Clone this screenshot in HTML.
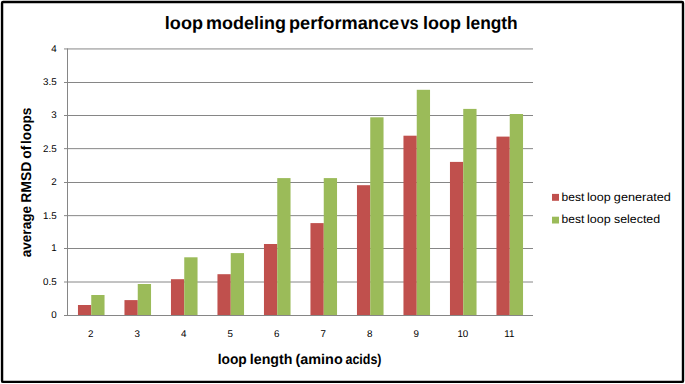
<!DOCTYPE html>
<html lang="en"><head><meta charset="utf-8"><title>loop modeling performance vs loop length</title>
<style>html,body{margin:0;padding:0;background:#fff;}body{width:685px;height:384px;overflow:hidden;}svg{display:block;}text{font-family:"Liberation Sans",sans-serif;fill:#000;text-rendering:geometricPrecision;}</style></head><body>
<svg width="685" height="384" viewBox="0 0 685 384">
<rect x="0" y="0" width="685" height="384" fill="#fff"/>
<rect x="2.05" y="2.05" width="680.95" height="379.85" rx="1" fill="none" stroke="#000" stroke-width="2.4"/>
<line x1="64.0" y1="315.50" x2="68.0" y2="315.50" stroke="#868686" stroke-width="1"/>
<text x="56.7" y="318.40" font-size="9.8" text-anchor="end" fill="#222">0</text>
<line x1="68.0" y1="282.00" x2="533.0" y2="282.00" stroke="#868686" stroke-width="1"/>
<line x1="64.0" y1="282.00" x2="68.0" y2="282.00" stroke="#868686" stroke-width="1"/>
<text x="56.7" y="284.90" font-size="9.8" text-anchor="end" fill="#222">0.5</text>
<line x1="68.0" y1="248.50" x2="533.0" y2="248.50" stroke="#868686" stroke-width="1"/>
<line x1="64.0" y1="248.50" x2="68.0" y2="248.50" stroke="#868686" stroke-width="1"/>
<text x="56.7" y="251.40" font-size="9.8" text-anchor="end" fill="#222">1</text>
<line x1="68.0" y1="215.65" x2="533.0" y2="215.65" stroke="#868686" stroke-width="1"/>
<line x1="64.0" y1="215.65" x2="68.0" y2="215.65" stroke="#868686" stroke-width="1"/>
<text x="56.7" y="218.55" font-size="9.8" text-anchor="end" fill="#222">1.5</text>
<line x1="68.0" y1="182.50" x2="533.0" y2="182.50" stroke="#868686" stroke-width="1"/>
<line x1="64.0" y1="182.50" x2="68.0" y2="182.50" stroke="#868686" stroke-width="1"/>
<text x="56.7" y="185.40" font-size="9.8" text-anchor="end" fill="#222">2</text>
<line x1="68.0" y1="148.65" x2="533.0" y2="148.65" stroke="#868686" stroke-width="1"/>
<line x1="64.0" y1="148.65" x2="68.0" y2="148.65" stroke="#868686" stroke-width="1"/>
<text x="56.7" y="151.55" font-size="9.8" text-anchor="end" fill="#222">2.5</text>
<line x1="68.0" y1="115.50" x2="533.0" y2="115.50" stroke="#868686" stroke-width="1"/>
<line x1="64.0" y1="115.50" x2="68.0" y2="115.50" stroke="#868686" stroke-width="1"/>
<text x="56.7" y="118.40" font-size="9.8" text-anchor="end" fill="#222">3</text>
<line x1="68.0" y1="82.50" x2="533.0" y2="82.50" stroke="#868686" stroke-width="1"/>
<line x1="64.0" y1="82.50" x2="68.0" y2="82.50" stroke="#868686" stroke-width="1"/>
<text x="56.7" y="85.40" font-size="9.8" text-anchor="end" fill="#222">3.5</text>
<line x1="68.0" y1="48.95" x2="533.0" y2="48.95" stroke="#868686" stroke-width="1"/>
<line x1="64.0" y1="48.95" x2="68.0" y2="48.95" stroke="#868686" stroke-width="1"/>
<text x="56.7" y="51.85" font-size="9.8" text-anchor="end" fill="#222">4</text>
<rect x="77.96" y="305.00" width="13.29" height="10.50" fill="#C0504D"/>
<rect x="91.25" y="295.00" width="13.29" height="20.50" fill="#9BBB59"/>
<text x="90.85" y="336.8" font-size="9.8" text-anchor="middle" fill="#222">2</text>
<rect x="124.46" y="300.10" width="13.29" height="15.40" fill="#C0504D"/>
<rect x="137.75" y="284.00" width="13.29" height="31.50" fill="#9BBB59"/>
<text x="137.35" y="336.8" font-size="9.8" text-anchor="middle" fill="#222">3</text>
<rect x="170.96" y="279.20" width="13.29" height="36.30" fill="#C0504D"/>
<rect x="184.25" y="257.30" width="13.29" height="58.20" fill="#9BBB59"/>
<text x="183.85" y="336.8" font-size="9.8" text-anchor="middle" fill="#222">4</text>
<rect x="217.46" y="274.20" width="13.29" height="41.30" fill="#C0504D"/>
<rect x="230.75" y="253.10" width="13.29" height="62.40" fill="#9BBB59"/>
<text x="230.35" y="336.8" font-size="9.8" text-anchor="middle" fill="#222">5</text>
<rect x="263.96" y="244.00" width="13.29" height="71.50" fill="#C0504D"/>
<rect x="277.25" y="178.10" width="13.29" height="137.40" fill="#9BBB59"/>
<text x="276.85" y="336.8" font-size="9.8" text-anchor="middle" fill="#222">6</text>
<rect x="310.46" y="223.10" width="13.29" height="92.40" fill="#C0504D"/>
<rect x="323.75" y="178.10" width="13.29" height="137.40" fill="#9BBB59"/>
<text x="323.35" y="336.8" font-size="9.8" text-anchor="middle" fill="#222">7</text>
<rect x="356.96" y="185.20" width="13.29" height="130.30" fill="#C0504D"/>
<rect x="370.25" y="117.30" width="13.29" height="198.20" fill="#9BBB59"/>
<text x="369.85" y="336.8" font-size="9.8" text-anchor="middle" fill="#222">8</text>
<rect x="403.46" y="135.70" width="13.29" height="179.80" fill="#C0504D"/>
<rect x="416.75" y="89.80" width="13.29" height="225.70" fill="#9BBB59"/>
<text x="416.35" y="336.8" font-size="9.8" text-anchor="middle" fill="#222">9</text>
<rect x="449.96" y="161.90" width="13.29" height="153.60" fill="#C0504D"/>
<rect x="463.25" y="108.90" width="13.29" height="206.60" fill="#9BBB59"/>
<text x="462.85" y="336.8" font-size="9.8" text-anchor="middle" fill="#222">10</text>
<rect x="496.46" y="136.60" width="13.29" height="178.90" fill="#C0504D"/>
<rect x="509.75" y="114.00" width="13.29" height="201.50" fill="#9BBB59"/>
<text x="509.35" y="336.8" font-size="9.8" text-anchor="middle" fill="#222">11</text>
<line x1="67.5" y1="48.45" x2="67.5" y2="315.5" stroke="#868686" stroke-width="1"/>
<line x1="64.0" y1="315.5" x2="533.0" y2="315.5" stroke="#868686" stroke-width="1"/>
<text y="28.8" font-size="17.9" font-weight="bold" fill="#000"><tspan x="164.84" textLength="38.14" lengthAdjust="spacingAndGlyphs">loop</tspan> <tspan x="206.05" textLength="79.8" lengthAdjust="spacingAndGlyphs">modeling</tspan> <tspan x="289.03" textLength="110.1" lengthAdjust="spacingAndGlyphs">performance</tspan> <tspan x="400.49" textLength="18.13" lengthAdjust="spacingAndGlyphs">vs</tspan> <tspan x="423.14" textLength="37.92" lengthAdjust="spacingAndGlyphs">loop</tspan> <tspan x="465.69" textLength="52.03" lengthAdjust="spacingAndGlyphs">length</tspan></text>
<text y="363.9" font-size="14.2" font-weight="bold" fill="#000"><tspan x="217.63" textLength="29.14" lengthAdjust="spacingAndGlyphs">loop</tspan> <tspan x="249.8" textLength="42.64" lengthAdjust="spacingAndGlyphs">length</tspan> <tspan x="295.44" textLength="47.29" lengthAdjust="spacingAndGlyphs">(amino</tspan> <tspan x="345.47" textLength="36.0" lengthAdjust="spacingAndGlyphs">acids)</tspan></text>
<g transform="translate(30.9,256.9) rotate(-90)"><text y="0" font-size="14.2" font-weight="bold" fill="#000"><tspan x="-0.36" textLength="51.25" lengthAdjust="spacingAndGlyphs">average</tspan> <tspan x="54.12" textLength="41.13" lengthAdjust="spacingAndGlyphs">RMSD</tspan> <tspan x="98.21" textLength="13.02" lengthAdjust="spacingAndGlyphs">of</tspan> <tspan x="112.94" textLength="36.43" lengthAdjust="spacingAndGlyphs">loops</tspan></text></g>
<rect x="552" y="193.9" width="7" height="6.9" fill="#C0504D"/>
<rect x="552" y="216.7" width="7" height="6.8" fill="#9BBB59"/>
<text y="200.9" font-size="11.8" font-weight="normal" fill="#222"><tspan x="561.64" textLength="22.73" lengthAdjust="spacingAndGlyphs">best</tspan> <tspan x="587.0" textLength="23.66" lengthAdjust="spacingAndGlyphs">loop</tspan> <tspan x="613.86" textLength="57.06" lengthAdjust="spacingAndGlyphs">generated</tspan></text>
<text y="223.4" font-size="11.8" font-weight="normal" fill="#222"><tspan x="561.64" textLength="22.73" lengthAdjust="spacingAndGlyphs">best</tspan> <tspan x="587.0" textLength="23.66" lengthAdjust="spacingAndGlyphs">loop</tspan> <tspan x="614.01" textLength="46.16" lengthAdjust="spacingAndGlyphs">selected</tspan></text>
</svg></body></html>
